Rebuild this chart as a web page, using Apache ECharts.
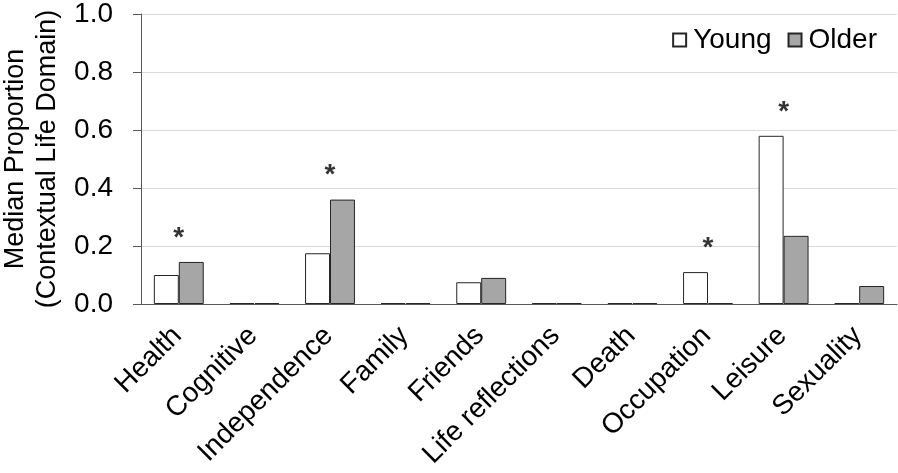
<!DOCTYPE html>
<html>
<head>
<meta charset="utf-8">
<script src="https://cdn.jsdelivr.net/npm/echarts@6/dist/echarts.min.js"></script>
<style>
html,body{margin:0;padding:0;background:#fff;}
#chart{width:898px;height:473px;}
</style>
</head>
<body>
<div id="chart"></div>
<script>
const categories = ['Health','Cognitive','Independence','Family','Friends','Life reflections','Death','Occupation','Leisure','Sexuality'];
const young = [0.10, 0, 0.175, 0, 0.075, 0, 0, 0.11, 0.58, 0];
const older = [0.145, 0, 0.36, 0, 0.09, 0, 0, 0, 0.235, 0.062];
const significant = ['Health','Independence','Occupation','Leisure'];
const yTicks = [0, 0.2, 0.4, 0.6, 0.8, 1.0];

const FONT = 'Liberation Sans, Arial, sans-serif';
const sigData = categories.map((c, i) => significant.includes(c) ? [c, Math.max(young[i], older[i])] : null).filter(Boolean);

const chart = echarts.init(document.getElementById('chart'));
chart.setOption({
  animation: false,
  grid: {left: 141, right: 1, top: 14, bottom: 169, containLabel: false, outerBoundsMode: 'none'},
  legend: {
    right: 16, top: 21,
    itemWidth: 13, itemHeight: 13, itemGap: 16,
    textStyle: {fontFamily: FONT, fontSize: 28, color: '#000', padding: [0,0,0,2]},
    data: [
      {name: 'Young', icon: 'rect'},
      {name: 'Older', icon: 'rect'}
    ]
  },
  xAxis: {
    type: 'category',
    data: categories,
    axisLine: {lineStyle: {color: '#595959', width: 1}},
    axisTick: {show: false},
    axisLabel: {rotate: 45, fontFamily: FONT, fontSize: 28, color: '#000', margin: 26, interval: 0, padding: [0, 2, 0, 0]}
  },
  yAxis: {
    type: 'value',
    min: yTicks[0], max: yTicks[yTicks.length-1], interval: 0.2,
    name: 'Median Proportion\n(Contextual Life Domain)',
    nameLocation: 'middle', nameRotate: 90, nameGap: 70,
    nameTextStyle: {fontFamily: FONT, fontSize: 27, color: '#000', lineHeight: 32},
    axisLine: {show: true, lineStyle: {color: '#595959', width: 1}},
    axisTick: {show: true, length: 8, lineStyle: {color: '#595959'}},
    axisLabel: {fontFamily: FONT, fontSize: 28, color: '#000', margin: 28, formatter: v => v.toFixed(1)},
    splitLine: {lineStyle: {color: '#d9d9d9', width: 1}}
  },
  series: [
    {name: 'Young', type: 'bar', data: young, barGap: '0%', barCategoryGap: '34%', barMinHeight: 1,
     itemStyle: {color: '#ffffff', borderColor: '#262626', borderWidth: 1}},
    {name: 'Older', type: 'bar', data: older, barGap: '0%', barCategoryGap: '34%', barMinHeight: 1,
     itemStyle: {color: '#a6a6a6', borderColor: '#262626', borderWidth: 1}},
    {name: 'sig', type: 'scatter', data: sigData, symbolSize: 0, silent: true,
     label: {show: true, position: 'top', distance: 10, formatter: '*', fontFamily: FONT, fontSize: 28, fontWeight: 'bold', color: '#000'}}
  ]
});
</script>
</body>
</html>
